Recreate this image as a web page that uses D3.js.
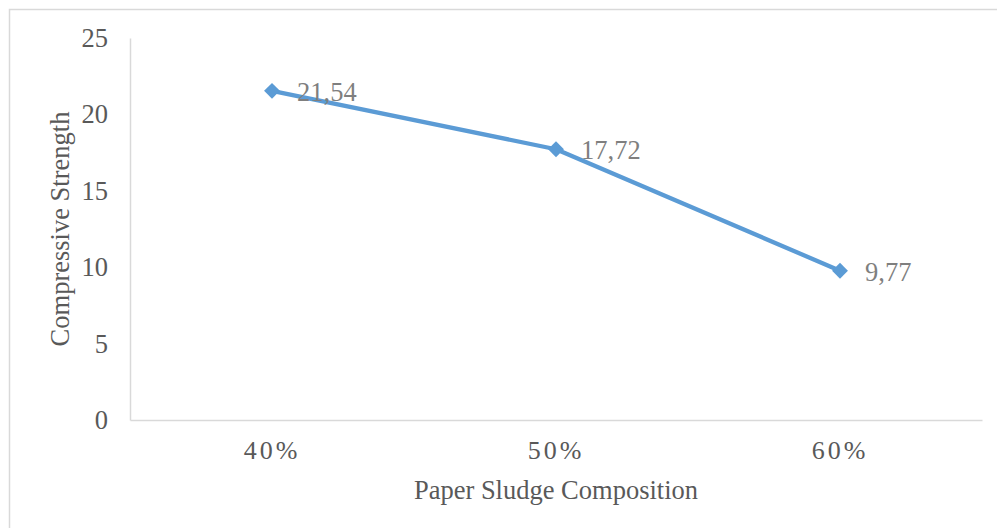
<!DOCTYPE html>
<html>
<head>
<meta charset="utf-8">
<script src="https://cdn.jsdelivr.net/npm/d3@7"></script>
<style>
  html, body { margin: 0; padding: 0; background: #fff; }
  svg { display: block; }
  text { font-family: "Liberation Serif", "Times New Roman", serif; }
</style>
</head>
<body>
<svg id="chart" width="997" height="528"></svg>
<script>
// Compressive strength by paper sludge share
const categories = ["40%", "50%", "60%"];
const strength = [21.54, 17.72, 9.77];
const valueLabels = ["21,54", "17,72", "9,77"];
const yTicks = [0, 5, 10, 15, 20, 25];

const svg = d3.select("#chart");
const W = 997, H = 528;
const plot = { left: 130, right: 982, top: 38, bottom: 420 };
const serif = '"Liberation Serif", "Times New Roman", serif';

// outer frame
svg.append("rect")
  .attr("x", 9.5).attr("y", 9.5)
  .attr("width", W + 10).attr("height", H + 10)
  .attr("fill", "none").attr("stroke", "#d9d9d9").attr("stroke-width", 1.5);

const x = d3.scaleBand().domain(categories).range([plot.left, plot.right]);
const y = d3.scaleLinear().domain([0, 25]).range([plot.bottom, plot.top]);

// y axis
const yAxis = svg.append("g")
  .attr("transform", `translate(${plot.left},0)`)
  .call(d3.axisLeft(y).tickValues(yTicks).tickSize(0).tickPadding(22));
yAxis.select(".domain").attr("stroke", "#d9d9d9").attr("stroke-width", 1.5);
yAxis.selectAll("text")
  .attr("fill", "#595959").attr("font-size", 26.5)
  .style("font-family", serif);

// x axis
const xAxis = svg.append("g")
  .attr("transform", `translate(0,${plot.bottom})`)
  .call(d3.axisBottom(x).tickSize(0).tickPadding(21));
xAxis.select(".domain").attr("stroke", "#d9d9d9").attr("stroke-width", 1.5);
xAxis.selectAll("text")
  .attr("fill", "#595959").attr("font-size", 26)
  .attr("letter-spacing", "3px")
  .attr("dx", "0px")
  .style("font-family", serif);

// axis titles
svg.append("text")
  .attr("x", 556).attr("y", 499)
  .attr("text-anchor", "middle")
  .attr("fill", "#595959").attr("font-size", 26.5)
  .text("Paper Sludge Composition");

svg.append("text")
  .attr("transform", `translate(69,229) rotate(-90)`)
  .attr("text-anchor", "middle")
  .attr("fill", "#595959").attr("font-size", 26.5)
  .text("Compressive Strength");

// series
const pts = categories.map((c, i) => ({ c, v: strength[i], label: valueLabels[i] }));
const cx = d => x(d.c) + x.bandwidth() / 2;

svg.append("path")
  .datum(pts)
  .attr("fill", "none")
  .attr("stroke", "#5b9bd5")
  .attr("stroke-width", 4.3)
  .attr("stroke-linejoin", "round")
  .attr("d", d3.line().x(cx).y(d => y(d.v)));

svg.selectAll("path.marker")
  .data(pts)
  .join("path")
  .attr("class", "marker")
  .attr("d", d3.symbol().type(d3.symbolDiamond2).size(160))
  .attr("transform", d => `translate(${cx(d)},${y(d.v)})`)
  .attr("fill", "#5b9bd5");

svg.selectAll("text.vlabel")
  .data(pts)
  .join("text")
  .attr("class", "vlabel")
  .attr("x", d => cx(d) + 25)
  .attr("y", d => y(d.v) + 10)
  .attr("fill", "#7f7f7f")
  .attr("font-size", 26.5)
  .text(d => d.label);
</script>
</body>
</html>
